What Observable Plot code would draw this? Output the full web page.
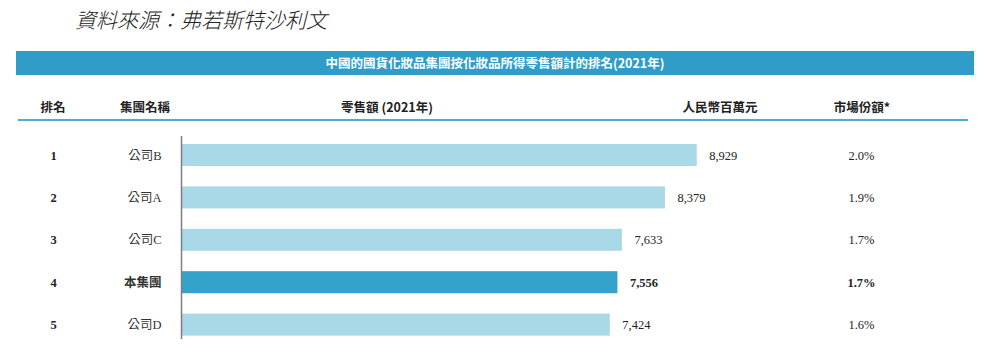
<!DOCTYPE html>
<html>
<head>
<meta charset="utf-8">
<script src="https://cdn.jsdelivr.net/npm/d3@7"></script>
<script src="https://cdn.jsdelivr.net/npm/@observablehq/plot@0.6"></script>
<style>
  body { margin: 0; background: #fff; }
  #wrap { position: relative; width: 1000px; height: 357px; overflow: hidden; }
  #wrap svg { position: absolute; left: 0; top: 0; }
  .ov { position: absolute; white-space: nowrap; font-family: "Noto Sans CJK TC", sans-serif; }
  #title { left: 75px; top: 9px; font-size: 21px; line-height: 21px; font-style: italic; color: #222; font-weight: 300; }
  #banner { left: 16px; top: 50.5px; width: 958px; height: 24px; background: #2f9dc8; color: #fff; font-size: 12.5px; line-height: 24px; font-weight: bold; text-align: center; }
  .hd { top: 98.5px; font-size: 12.5px; line-height: 16px; font-weight: bold; color: #222; }
  #hline { left: 18px; top: 119.3px; width: 950px; height: 1.5px; background: #4fabd3; }
</style>
</head>
<body>
<div id="wrap"></div>
<script>
// ---- data ----
const sourceTitle = "資料來源：弗若斯特沙利文";
const bannerTitle = "中國的國貨化妝品集團按化妝品所得零售額計的排名(2021年)";
const headerLabels = ["排名", "集團名稱", "零售額 (2021年)", "人民幣百萬元", "市場份額*"];
const ranks = ["1", "2", "3", "4", "5"];
const names = ["公司B", "公司A", "公司C", "本集團", "公司D"];
const sales = [8929, 8379, 7633, 7556, 7424];
const shares = ["2.0%", "1.9%", "1.7%", "1.7%", "1.6%"];
const highlightName = "本集團";

const rows = ranks.map((r, i) => ({rank: r, name: names[i], sales: sales[i], share: shares[i], hl: names[i] === highlightName}));

const lightBlue = "#a9d9e6";
const darkBlue = "#33a3cc";
const serif = "'Liberation Serif', 'Noto Sans CJK TC', serif";
const fmt = d3.format(",");

const wrap = document.getElementById("wrap");

const textCols = (hl) => {
  const w = hl ? "bold" : "normal";
  const f = d => hl ? d.hl : !d.hl;
  return [
    Plot.text(rows, {filter: f, y: "rank", text: "rank", frameAnchor: "left", dx: 53, textAnchor: "middle", fontWeight: "bold", fontFamily: serif, fontSize: 12.5, fill: "#222"}),
    Plot.text(rows, {filter: f, y: "rank", text: "name", frameAnchor: "left", dx: 161, textAnchor: "end", fontWeight: w, fontFamily: serif, fontSize: 12.5, fill: "#333"}),
    Plot.text(rows, {filter: f, x: "sales", y: "rank", text: d => fmt(d.sales), dx: 12, textAnchor: "start", fontWeight: w, fontFamily: serif, fontSize: 12.5, fill: "#222"}),
    Plot.text(rows, {filter: f, y: "rank", text: "share", frameAnchor: "left", dx: 861, textAnchor: "middle", fontWeight: w, fontFamily: serif, fontSize: 12.5, fill: "#222"})
  ];
};

const chart = Plot.plot({
  width: 1000,
  height: 357,
  marginLeft: 0,
  marginRight: 0,
  marginTop: 136,
  marginBottom: 18,
  style: {background: "transparent", fontFamily: serif},
  x: {domain: [0, 10000], range: [181, 758.6], axis: null},
  y: {domain: ranks, range: [133.8, 345.8], paddingInner: 0.48, paddingOuter: 0.24, round: false, axis: null},
  marks: [
    Plot.barX(rows, {x: "sales", y: "rank", fill: d => d.hl ? darkBlue : lightBlue}),
    Plot.ruleX([0], {stroke: "#7d7d7d", strokeWidth: 1.5}),
    ...textCols(false),
    ...textCols(true)
  ]
});
wrap.appendChild(chart);

function addDiv(id, cls, text, style) {
  const d = document.createElement("div");
  if (id) d.id = id;
  d.className = cls;
  d.textContent = text;
  if (style) Object.assign(d.style, style);
  wrap.appendChild(d);
  return d;
}
addDiv("title", "ov", sourceTitle);
addDiv("banner", "ov", bannerTitle);
const headerCenters = [53, 145, 387, 720, 862];
headerLabels.forEach((h, i) => {
  addDiv(null, "ov hd", h, {left: headerCenters[i] + "px", transform: "translateX(-50%)"});
});
addDiv("hline", "ov", "");
</script>
</body>
</html>
